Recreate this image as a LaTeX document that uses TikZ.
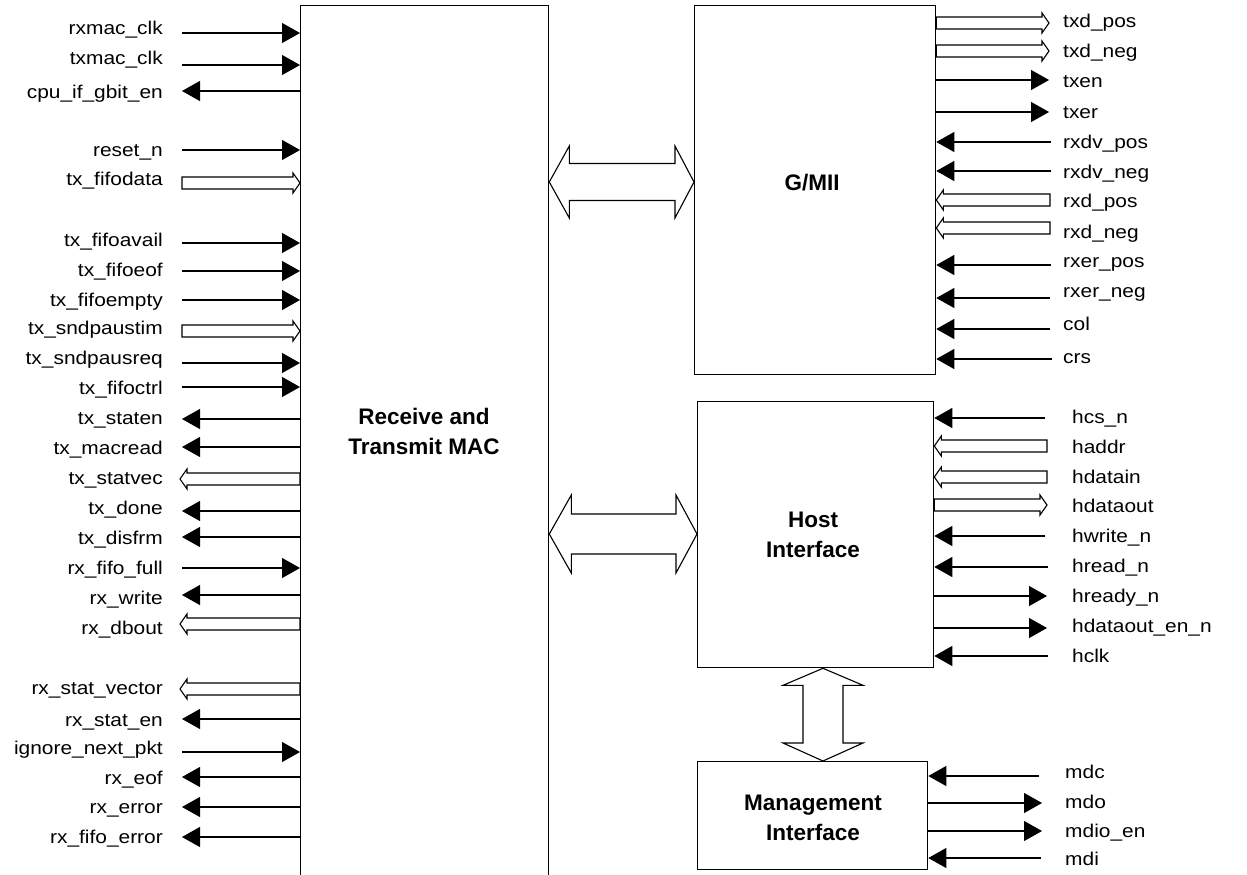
\documentclass[tikz,border=0pt]{standalone}
\usepackage{fontspec}
\setmainfont{Liberation Sans}
\newfontfamily\labfont[FakeStretch=1.13]{Liberation Sans}
\usetikzlibrary{arrows.meta}
\tikzset{
 sig/.style={line width=1.1pt, -{Triangle[length=18pt,width=20pt]}},
 bus/.style={draw, line width=1.1pt, fill=white, line join=miter},
 blk/.style={draw, line width=1.3pt, inner sep=0pt, anchor=north west},
 lbl/.style={font=\labfont\fontsize{18.5}{22}\selectfont, inner sep=0pt},
 title/.style={font=\bfseries\fontsize{22.5}{30}\selectfont, inner sep=0pt, anchor=base, align=center},
 fat/.style={draw, line width=1.1pt, line join=miter, fill=white},
}
% bus arrow pointing right: start #1, tip #2
\newcommand\busRight[2]{\path[bus] ([shift={(0,-6)}]#1) -- ([shift={(-7,-6)}]#2) -- ([shift={(-7,-10)}]#2) -- (#2) -- ([shift={(-7,10)}]#2) -- ([shift={(-7,6)}]#2) -- ([shift={(0,6)}]#1) -- cycle;}
% bus arrow pointing left: tip #1, start #2
\newcommand\busLeft[2]{\path[bus] ([shift={(0,-6)}]#2) -- ([shift={(7,-6)}]#1) -- ([shift={(7,-10)}]#1) -- (#1) -- ([shift={(7,10)}]#1) -- ([shift={(7,6)}]#1) -- ([shift={(0,6)}]#2) -- cycle;}
% left side of MAC: id, text, baseline, y
\newcommand\Lin[4]{\coordinate (#1) at (182,#4); \draw[sig] (#1) -- (#1 -| mac.west); \node[lbl,anchor=base east] (t#1) at (163,#3+1) {#2};}
\newcommand\Lout[4]{\coordinate (#1) at (182,#4); \draw[sig] (#1 -| mac.west) -- (#1); \node[lbl,anchor=base east] (t#1) at (163,#3+1) {#2};}
\newcommand\Lbin[4]{\coordinate (#1) at (182,#4); \coordinate (#1e) at (#1 -| mac.west); \busRight{#1}{#1e} \node[lbl,anchor=base east] (t#1) at (163,#3+1) {#2};}
\newcommand\Lbout[4]{\coordinate (#1) at (180,#4); \coordinate (#1e) at (#1 -| mac.west); \busLeft{#1}{#1e} \node[lbl,anchor=base east] (t#1) at (163,#3+1) {#2};}
% right side: id, text, baseline, y, box, end x, label x
\newcommand\Rout[7]{\coordinate (#1) at (#6,#4); \draw[sig] (#1 -| #5.east) -- (#1); \node[lbl,anchor=base west] (t#1) at (#7,#3) {#2};}
\newcommand\Rin[7]{\coordinate (#1) at (#6,#4); \draw[sig] (#1) -- (#1 -| #5.east); \node[lbl,anchor=base west] (t#1) at (#7,#3) {#2};}
\newcommand\Rbout[7]{\coordinate (#1) at (#6,#4); \coordinate (#1e) at (#1 -| #5.east); \busRight{#1e}{#1} \node[lbl,anchor=base west] (t#1) at (#7,#3) {#2};}
\newcommand\Rbin[7]{\coordinate (#1) at (#6,#4); \coordinate (#1e) at (#1 -| #5.east); \busLeft{#1e}{#1} \node[lbl,anchor=base west] (t#1) at (#7,#3) {#2};}
\begin{document}
\begin{tikzpicture}[x=1pt,y=-1pt]
\useasboundingbox[fill=white] (0,0) rectangle (1247,875);
% blocks
\node[blk, minimum width=248pt, minimum height=880pt] (mac) at (300,5) {};
\node[blk, minimum width=241pt, minimum height=369pt] (gmii) at (694,5) {};
\node[blk, minimum width=236pt, minimum height=266pt] (host) at (697,401) {};
\node[blk, minimum width=230pt, minimum height=108pt] (mgmt) at (697,761) {};
\node[title] (tmac) at (424,454) {Receive and\\Transmit MAC};
\node[title] (tgmii) at (812,190) {G/MII};
\node[title] (thost) at (813,557) {Host\\Interface};
\node[title] (tmgmt) at (813,840) {Management\\Interface};
% big bidirectional buses
\coordinate (b1l) at (mac.east |- 0,182);
\coordinate (b1r) at (gmii.west |- 0,182);
\path[fat] (b1l) -- ([shift={(20,-36)}]b1l) -- ([shift={(20,-18.5)}]b1l) -- ([shift={(-19,-18.5)}]b1r) -- ([shift={(-19,-36)}]b1r) -- (b1r) -- ([shift={(-19,36)}]b1r) -- ([shift={(-19,18.5)}]b1r) -- ([shift={(20,18.5)}]b1l) -- ([shift={(20,36)}]b1l) -- cycle;
\coordinate (b2l) at (mac.east |- 0,534);
\coordinate (b2r) at (host.west |- 0,534);
\path[fat] (b2l) -- ([shift={(22,-39)}]b2l) -- ([shift={(22,-20)}]b2l) -- ([shift={(-21,-20)}]b2r) -- ([shift={(-21,-39)}]b2r) -- (b2r) -- ([shift={(-21,39)}]b2r) -- ([shift={(-21,20)}]b2r) -- ([shift={(22,20)}]b2l) -- ([shift={(22,39)}]b2l) -- cycle;
\coordinate (b3t) at (host.south -| 823,0);
\coordinate (b3b) at (mgmt.north -| 823,0);
\path[fat] (b3t) -- ([shift={(40,17)}]b3t) -- ([shift={(20,17)}]b3t) -- ([shift={(20,-18)}]b3b) -- ([shift={(40,-18)}]b3b) -- (b3b) -- ([shift={(-40,-18)}]b3b) -- ([shift={(-20,-18)}]b3b) -- ([shift={(-20,17)}]b3t) -- ([shift={(-40,17)}]b3t) -- cycle;
% left signals
\Lin{a1}{rxmac\_clk}{34}{33}
\Lin{a2}{txmac\_clk}{63}{65}
\Lout{a3}{cpu\_if\_gbit\_en}{97}{91}
\Lin{a4}{reset\_n}{155}{150}
\Lbin{a5}{tx\_fifodata}{184}{183}
\Lin{a6}{tx\_fifoavail}{245}{243}
\Lin{a7}{tx\_fifoeof}{275}{271}
\Lin{a8}{tx\_fifoempty}{305}{300}
\Lbin{a9}{tx\_sndpaustim}{333}{331}
\Lin{a10}{tx\_sndpausreq}{363}{363}
\Lin{a11}{tx\_fifoctrl}{393}{387}
\Lout{a12}{tx\_staten}{423}{419}
\Lout{a13}{tx\_macread}{453}{447}
\Lbout{a14}{tx\_statvec}{483}{479}
\Lout{a15}{tx\_done}{513}{511}
\Lout{a16}{tx\_disfrm}{543}{537}
\Lin{a17}{rx\_fifo\_full}{573}{568}
\Lout{a18}{rx\_write}{603}{595}
\Lbout{a19}{rx\_dbout}{633}{624}
\Lbout{a20}{rx\_stat\_vector}{693}{689}
\Lout{a21}{rx\_stat\_en}{725}{719}
\Lin{a22}{ignore\_next\_pkt}{753}{752}
\Lout{a23}{rx\_eof}{783}{777}
\Lout{a24}{rx\_error}{812}{807}
\Lout{a25}{rx\_fifo\_error}{842}{837}
% G/MII signals
\Rbout{g1}{txd\_pos}{28}{23}{gmii}{1049}{1063}
\Rbout{g2}{txd\_neg}{57}{51}{gmii}{1049}{1063}
\Rout{g3}{txen}{88}{80}{gmii}{1049}{1063}
\Rout{g4}{txer}{118}{112}{gmii}{1049}{1063}
\Rin{g5}{rxdv\_pos}{148}{142}{gmii}{1051}{1063}
\Rin{g6}{rxdv\_neg}{178}{171}{gmii}{1051}{1063}
\Rbin{g7}{rxd\_pos}{207}{200}{gmii}{1050}{1063}
\Rbin{g8}{rxd\_neg}{238}{228}{gmii}{1050}{1063}
\Rin{g9}{rxer\_pos}{267}{265}{gmii}{1051}{1063}
\Rin{g10}{rxer\_neg}{297}{298}{gmii}{1050}{1063}
\Rin{g11}{col}{330}{329}{gmii}{1050}{1063}
\Rin{g12}{crs}{363}{359}{gmii}{1052}{1063}
% Host signals
\Rin{h1}{hcs\_n}{423}{418}{host}{1045}{1072}
\Rbin{h2}{haddr}{453}{446}{host}{1047}{1072}
\Rbin{h3}{hdatain}{483}{477}{host}{1047}{1072}
\Rbout{h4}{hdataout}{512}{505}{host}{1047}{1072}
\Rin{h5}{hwrite\_n}{542}{536}{host}{1045}{1072}
\Rin{h6}{hread\_n}{572}{567}{host}{1048}{1072}
\Rout{h7}{hready\_n}{602}{596}{host}{1047}{1072}
\Rout{h8}{hdataout\_en\_n}{632}{628}{host}{1047}{1072}
\Rin{h9}{hclk}{662}{656}{host}{1048}{1072}
% Management signals
\Rin{m1}{mdc}{778}{776}{mgmt}{1039}{1065}
\Rout{m2}{mdo}{808}{803}{mgmt}{1042}{1065}
\Rout{m3}{mdio\_en}{837}{831}{mgmt}{1042}{1065}
\Rin{m4}{mdi}{865}{858}{mgmt}{1041}{1065}
\end{tikzpicture}
\end{document}
